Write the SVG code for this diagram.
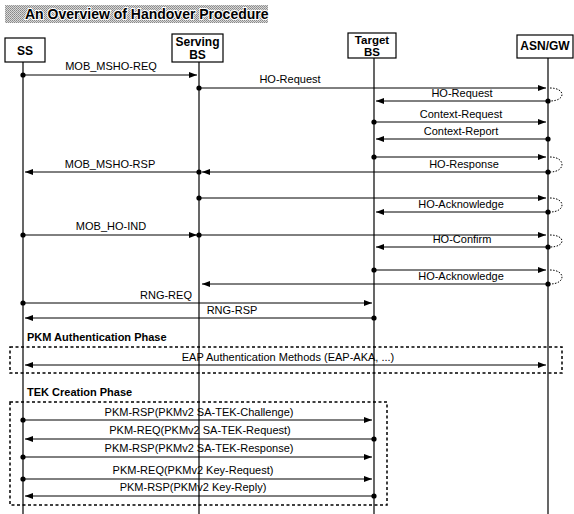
<svg xmlns="http://www.w3.org/2000/svg" width="574" height="514" viewBox="0 0 574 514">
<style>
text{font-family:"Liberation Sans",Arial,sans-serif;fill:#000}
.lbl{font-size:11px;text-anchor:middle}
.hd{font-size:12px;font-weight:bold;text-anchor:middle}
.ph{font-size:11px;font-weight:bold}
.box{fill:#fff;stroke:#000;stroke-width:1.2}
.life{stroke:#000;stroke-width:1.2;fill:none}
.msg{stroke:#000;stroke-width:1;fill:none;marker-end:url(#arr)}
.dm{marker-start:url(#dot)}
.loop{stroke:#000;stroke-width:1;fill:none;stroke-dasharray:1.5 1.5}
.frame{stroke:#000;stroke-width:1.5;fill:none;stroke-dasharray:3 2.5}
</style>
<defs>
<marker id="arr" markerWidth="8" markerHeight="6" refX="8" refY="3" orient="auto" markerUnits="userSpaceOnUse"><path d="M0,0 L8,3 L0,6 Z" fill="#000"/></marker>
<marker id="arrs" markerWidth="8" markerHeight="6" refX="0" refY="3" orient="auto" markerUnits="userSpaceOnUse"><path d="M8,0 L0,3 L8,6 Z" fill="#000"/></marker>
<marker id="dot" markerWidth="6" markerHeight="6" refX="3" refY="3" markerUnits="userSpaceOnUse"><circle cx="3" cy="3" r="2.6" fill="#000"/></marker>
<pattern id="dith" width="2" height="2" patternUnits="userSpaceOnUse"><rect width="2" height="2" fill="#d8d8d8"/><rect width="1" height="1" fill="#888"/><rect x="1" y="1" width="1" height="1" fill="#999"/></pattern>
</defs>

<g id="title">
<rect x="5" y="5" width="263" height="18" fill="url(#dith)"/>
<text x="25" y="19" style="font-size:14px;font-weight:bold;stroke:#fff;stroke-width:2;paint-order:stroke">An Overview of Handover Procedure</text>
</g>

<g id="lifelines">
<line class="life" x1="23" y1="62" x2="23" y2="514"/>
<line class="life" x1="199" y1="62" x2="199" y2="514"/>
<line class="life" x1="374" y1="58" x2="374" y2="514"/>
<line class="life" x1="548" y1="58" x2="548" y2="514"/>
</g>

<g id="node-ss">
<rect class="box" x="5" y="38" width="40" height="24"/>
<text class="hd" x="25" y="55">SS</text>
</g>
<g id="node-serving-bs">
<rect class="box" x="172" y="34" width="51" height="28"/>
<text class="hd" x="197.5" y="46">Serving</text>
<text class="hd" x="197.5" y="59">BS</text>
</g>
<g id="node-target-bs">
<rect class="box" x="348" y="33" width="48" height="25"/>
<text class="hd" x="372" y="43.5" style="font-size:11.5px">Target</text>
<text class="hd" x="372" y="56" style="font-size:11.5px">BS</text>
</g>
<g id="node-asn-gw">
<rect class="box" x="517" y="35" width="56" height="23"/>
<text class="hd" x="545" y="50">ASN/GW</text>
</g>

<g id="frames">
<text class="ph" x="27" y="341">PKM Authentication Phase</text>
<rect class="frame" x="10" y="347" width="552" height="26"/>
<text class="ph" x="27" y="396">TEK Creation Phase</text>
<rect class="frame" x="10" y="402" width="377" height="103"/>
</g>

<g id="connectors">
<path class="msg dm" d="M23,75 H197"/>
<text class="lbl" x="111" y="70">MOB_MSHO-REQ</text>

<path class="msg dm" d="M199,88 H546"/>
<text class="lbl" x="290" y="83">HO-Request</text>
<path class="loop" d="M550,88 C566,88 566,101 550,101"/>
<path class="msg dm" d="M548,101 H376"/>
<text class="lbl" x="462" y="97">HO-Request</text>

<path class="msg dm" d="M374,122 H546"/>
<text class="lbl" x="461" y="118">Context-Request</text>
<path class="msg dm" d="M548,139 H376"/>
<text class="lbl" x="461" y="135">Context-Report</text>

<path class="msg dm" d="M374,157 H546"/>
<path class="loop" d="M550,157 C566,157 566,172 550,172"/>
<path class="msg dm" d="M548,172 H202"/>
<text class="lbl" x="464" y="168">HO-Response</text>
<path class="msg dm" d="M199,172 H25"/>
<text class="lbl" x="110" y="168">MOB_MSHO-RSP</text>

<path class="msg dm" d="M199,198 H546"/>
<path class="loop" d="M550,198 C566,198 566,212 550,212"/>
<path class="msg dm" d="M548,212 H376"/>
<text class="lbl" x="461" y="208">HO-Acknowledge</text>

<path class="msg dm" d="M23,235 H197"/>
<text class="lbl" x="111" y="230">MOB_HO-IND</text>
<path class="msg dm" d="M199,235 H546"/>
<path class="loop" d="M550,235 C566,235 566,247 550,247"/>
<path class="msg dm" d="M548,247 H376"/>
<text class="lbl" x="462" y="243">HO-Confirm</text>

<path class="msg dm" d="M374,270 H546"/>
<path class="loop" d="M550,270 C566,270 566,284 550,284"/>
<path class="msg dm" d="M548,284 H202"/>
<text class="lbl" x="461" y="280">HO-Acknowledge</text>

<path class="msg dm" d="M23,303 H372"/>
<text class="lbl" x="166" y="299">RNG-REQ</text>
<path class="msg dm" d="M374,318 H25"/>
<text class="lbl" x="232" y="314">RNG-RSP</text>

<path class="msg" style="marker-start:url(#arrs)" d="M25,365 H546"/>
<text class="lbl" x="288" y="361">EAP Authentication Methods (EAP-AKA, ...)</text>

<path class="msg dm" d="M23,420 H372"/>
<text class="lbl" x="199" y="416">PKM-RSP(PKMv2 SA-TEK-Challenge)</text>
<path class="msg dm" d="M374,439 H25"/>
<text class="lbl" x="200" y="434">PKM-REQ(PKMv2 SA-TEK-Request)</text>
<path class="msg dm" d="M23,457 H372"/>
<text class="lbl" x="199" y="452">PKM-RSP(PKMv2 SA-TEK-Response)</text>
<path class="msg dm" d="M23,479 H372"/>
<text class="lbl" x="193" y="474">PKM-REQ(PKMv2 Key-Request)</text>
<path class="msg dm" d="M374,496 H25"/>
<text class="lbl" x="193" y="491">PKM-RSP(PKMv2 Key-Reply)</text>
</g>
</svg>
